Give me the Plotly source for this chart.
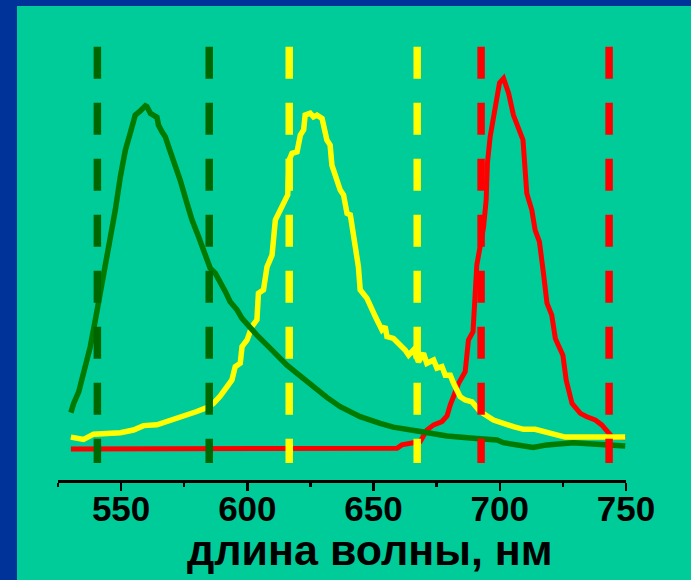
import plotly.graph_objects as go

# ---- data (wavelength in nm, relative intensity) ----
green_nm = [530.1, 531.2, 533.2, 535.1, 537.8, 539.8, 541.8, 543.7, 545.7, 547.7, 549.7, 551.7, 553.6,
            555.6, 557.6, 559.6, 560.2, 561.6, 564.2, 564.8, 566.2, 567.5, 568.8, 570.8, 573.4, 576.1,
            578.1, 580.7, 583.3, 585.3, 587.3, 589.3, 591.3, 593.2, 595.9, 597.9, 600.5, 603.8, 607.8,
            611.7, 615.7, 619.7, 623.6, 627.6, 631.5, 636.8, 644.7, 652.6, 657.8, 668.5, 679.1, 689.5,
            698.9, 701.4, 708.1, 713.2, 718.7, 726.6, 729.1, 738.5, 749.7]
green_val = [0.098, 0.123, 0.154, 0.204, 0.276, 0.348, 0.420, 0.491, 0.572, 0.644, 0.734, 0.806, 0.851,
             0.900, 0.911, 0.925, 0.923, 0.905, 0.894, 0.873, 0.855, 0.842, 0.815, 0.779, 0.725, 0.662,
             0.617, 0.572, 0.527, 0.487, 0.474, 0.451, 0.424, 0.397, 0.375, 0.352, 0.330, 0.307, 0.280,
             0.253, 0.226, 0.204, 0.181, 0.159, 0.139, 0.114, 0.087, 0.069, 0.059, 0.047, 0.035, 0.029,
             0.024, 0.017, 0.011, 0.004, 0.011, 0.013, 0.017, 0.013, 0.008]

yellow_nm = [530.1, 532.5, 535.1, 539.1, 549.7, 554.9, 558.9, 564.2, 568.2, 572.1, 576.1, 580.0, 584.0,
             586.6, 589.3, 591.9, 593.9, 595.2, 597.2, 597.9, 599.9, 601.8, 603.8, 604.4, 606.4, 607.8,
             609.8, 611.1, 613.0, 615.0, 616.0, 616.6, 617.7, 619.7, 621.0, 622.3, 622.9, 624.9, 626.2,
             627.6, 629.6, 631.5, 632.8, 633.5, 635.5, 636.8, 638.1, 639.5, 640.8, 642.7, 644.0, 644.7,
             647.4, 650.7, 652.0, 653.3, 654.6, 655.3, 657.9, 659.9, 662.5, 663.9, 665.8, 667.8, 669.8,
             671.1, 673.8, 675.1, 677.1, 678.4, 680.4, 681.7, 683.0, 684.3, 686.3, 689.0, 692.2, 697.5,
             705.4, 709.4, 714.0, 721.3, 725.9, 749.7]
yellow_val = [0.032, 0.029, 0.026, 0.040, 0.044, 0.051, 0.063, 0.065, 0.074, 0.080, 0.092, 0.101, 0.112,
              0.123, 0.143, 0.166, 0.186, 0.222, 0.231, 0.276, 0.294, 0.330, 0.348, 0.420, 0.429, 0.491,
              0.523, 0.617, 0.642, 0.674, 0.685, 0.779, 0.797, 0.801, 0.846, 0.860, 0.900, 0.905, 0.895,
              0.900, 0.891, 0.833, 0.819, 0.765, 0.716, 0.698, 0.685, 0.635, 0.631, 0.545, 0.491, 0.429,
              0.406, 0.357, 0.339, 0.321, 0.330, 0.303, 0.298, 0.285, 0.267, 0.253, 0.267, 0.235, 0.258,
              0.231, 0.240, 0.218, 0.222, 0.199, 0.199, 0.177, 0.159, 0.141, 0.132, 0.127, 0.101, 0.078,
              0.060, 0.053, 0.053, 0.042, 0.032, 0.032]

red_nm = [530.1, 659.3, 661.2, 664.5, 668.5, 671.1, 673.8, 677.1, 679.1, 680.4, 681.7, 683.7, 686.3,
          687.6, 689.4, 690.3, 690.9, 692.2, 693.6, 694.6, 695.1, 696.2, 698.2, 699.9, 701.5, 703.5,
          705.4, 707.4, 709.2, 710.7, 712.7, 714.0, 715.7, 717.3, 718.7, 720.6, 722.0, 725.0, 726.3,
          728.6, 731.9, 734.5, 737.8, 740.4, 742.4, 744.4, 749.7]
red_val = [0.000, 0.002, 0.011, 0.015, 0.020, 0.051, 0.065, 0.074, 0.089, 0.119, 0.141, 0.177, 0.208,
           0.294, 0.316, 0.464, 0.496, 0.545, 0.599, 0.671, 0.770, 0.842, 0.914, 0.987, 0.999, 0.959,
           0.900, 0.869, 0.833, 0.689, 0.644, 0.590, 0.559, 0.474, 0.393, 0.361, 0.298, 0.253, 0.186,
           0.123, 0.096, 0.087, 0.078, 0.065, 0.051, 0.033, 0.030]

filter_nm = [540.6, 584.9, 616.6, 667.3, 692.6, 743.3]
filter_colors = ["#006600", "#006600", "#FFFF00", "#FFFF00", "#FF0000", "#FF0000"]
filter_top, filter_bottom = 1.084, -0.038

tick_vals = [550, 600, 650, 700, 750]
tick_text = ["550", "600", "650", "700", "750"]
x_title = "длина волны, нм"

BLUE = "#003399"
TEAL = "#00CC99"

fig = go.Figure()
fig.add_trace(go.Scatter(x=red_nm, y=red_val, mode="lines",
                         line=dict(color="#FF0000", width=5), hoverinfo="skip"))
fig.add_trace(go.Scatter(x=yellow_nm, y=yellow_val, mode="lines",
                         line=dict(color="#FFFF00", width=5.5), hoverinfo="skip"))
fig.add_trace(go.Scatter(x=green_nm, y=green_val, mode="lines",
                         line=dict(color="#007A00", width=5.5), hoverinfo="skip"))

shapes = [dict(type="rect", xref="paper", yref="paper", x0=-0.0722, x1=1.2, y0=-0.3, y1=1.0773,
               fillcolor=TEAL, line=dict(width=0), layer="below")]
for nm, c in zip(filter_nm, filter_colors):
    shapes.append(dict(type="line", xref="x", yref="y", x0=nm, x1=nm, y0=filter_top, y1=filter_bottom,
                       line=dict(color=c, width=7.5, dash="32px,24px"), layer="above"))

fig.update_layout(
    width=691, height=580,
    margin=dict(l=58, r=65, t=40, b=100),
    paper_bgcolor=BLUE, plot_bgcolor=TEAL,
    showlegend=False,
    shapes=shapes,
    xaxis=dict(range=[525, 750], showgrid=False, zeroline=False,
               showline=True, linecolor="black", linewidth=3,
               ticks="outside", ticklen=8, tickwidth=2.5, tickcolor="black",
               tickvals=tick_vals, ticktext=tick_text, ticklabelstandoff=-12,
               tickfont=dict(family="Liberation Sans", size=35, color="black", weight="bold"),
               minor=dict(dtick=25, tick0=525, ticks="outside", ticklen=4, tickwidth=2.5,
                          tickcolor="black", showgrid=False)),
    yaxis=dict(range=[-0.0836, 1.1024], visible=False, showgrid=False, zeroline=False),
    annotations=[dict(text=x_title, xref="paper", yref="paper", x=0.55, y=-0.16,
                      xanchor="center", yanchor="middle", showarrow=False,
                      font=dict(family="Liberation Sans", size=43, color="black", weight="bold"))],
)

fig.write_html("out.html", config={"displayModeBar": False, "staticPlot": True},
               post_script="document.body.style.margin='0';document.body.style.overflow='hidden';")
